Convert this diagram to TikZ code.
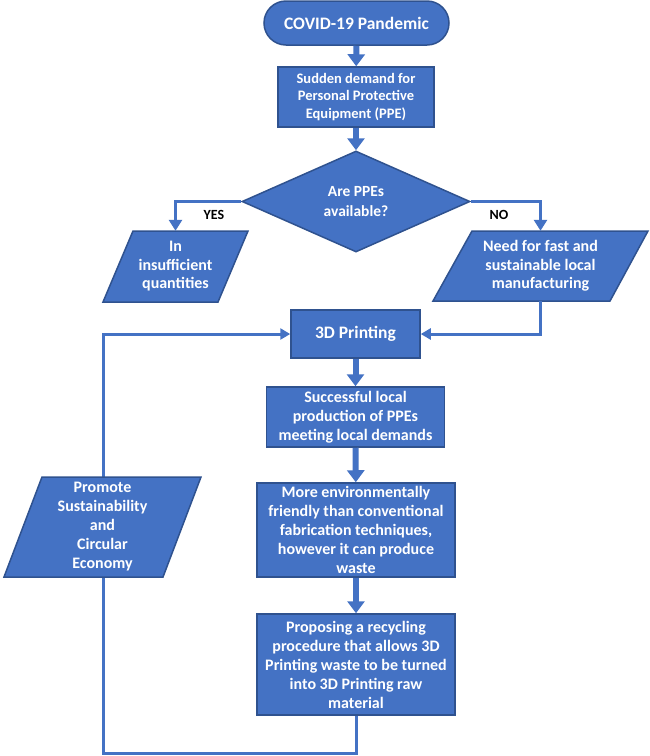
\documentclass[tikz,border=0pt]{standalone}
\usepackage{fontspec}
\setmainfont{Carlito}
\usetikzlibrary{shapes.geometric,arrows.meta,backgrounds}
\definecolor{fillb}{HTML}{4472C4}
\definecolor{edgeb}{HTML}{2F528F}
\definecolor{lineb}{HTML}{4472C4}
\begin{document}
\begin{tikzpicture}[x=1pt,y=-1pt,
  blk/.style={draw=edgeb,line width=1.5pt,fill=fillb,text=white,
    font=\bfseries\fontsize{16}{19}\selectfont,align=center,inner sep=0pt},
  ptext/.style={text=white,font=\bfseries\fontsize{16}{19}\selectfont,
    align=center,inner sep=0pt},
  parafill/.style={draw=edgeb,line width=1.5pt,fill=fillb,line join=miter},
  mainarr/.style={draw=lineb,line width=6pt,-{Triangle[width=17pt,length=12pt]}},
  thinarr/.style={draw=lineb,line width=3pt,-{Triangle[width=13pt,length=11pt]}},
  looparr/.style={draw=lineb,line width=3pt,-{Triangle[width=11pt,length=10pt]}},
  lbl/.style={text=black,font=\bfseries\fontsize{14}{16}\selectfont,inner sep=0pt}
]
\useasboundingbox (0,0) rectangle (649,756);

% process nodes
\node[blk,rounded corners=22pt,minimum width=185pt,minimum height=44pt,
  font=\bfseries\fontsize{17.5}{20}\selectfont] (start) at (356.5,23) {COVID-19 Pandemic};
\node[blk,minimum width=156pt,minimum height=60pt,
  font=\bfseries\fontsize{14.5}{17.5}\selectfont] (ppe) at (356,97)
  {Sudden demand for\\Personal Protective\\Equipment (PPE)};
\node[blk,diamond,aspect=2.26,minimum width=228pt,minimum height=101pt,
  font=\bfseries\fontsize{15.5}{20}\selectfont] (dia) at (356,201.5) {Are PPEs\\available?};
\node[blk,minimum width=129pt,minimum height=48pt,
  font=\bfseries\fontsize{17.5}{19}\selectfont] (print) at (355.5,334) {3D Printing};
\node[blk,minimum width=178pt,minimum height=60pt] (succ) at (355.5,417)
  {Successful local\\production of PPEs\\meeting local demands};
\node[blk,minimum width=198pt,minimum height=94pt] (more) at (356,530)
  {More environmentally\\friendly than conventional\\fabrication techniques,\\however it can produce\\waste};
\node[blk,minimum width=198pt,minimum height=101pt] (prop) at (356,664.5)
  {Proposing a recycling\\procedure that allows 3D\\Printing waste to be turned\\into 3D Printing raw\\material};

% parallelogram text nodes
\node[ptext,minimum width=115pt,minimum height=71pt,
  font=\bfseries\fontsize{16}{18.5}\selectfont] (insuf) at (175.5,266.5) {In\\insufficient\\quantities};
\node[ptext,minimum width=176pt,minimum height=70pt,
  font=\bfseries\fontsize{16}{18.5}\selectfont] (np) at (540.5,266) {Need for fast and\\sustainable local\\manufacturing};
\node[ptext,minimum width=159pt,minimum height=100pt] (promote) at (102.5,527)
  {Promote\\Sustainability\\and\\Circular\\Economy};

\coordinate (lb) at (103,753);
\coordinate (lt) at (print.west -| lb);

\begin{scope}[on background layer]
  \fill[white] (0,0) rectangle (649,756);
  % feedback loop (passes behind the parallelogram)
  \draw[looparr] (prop) |- (lb) -- (lt) -- (print.west);
  % parallelogram outlines
  \path[parafill] (133,231) -- (248,231) -- (218,302) -- (103,302) -- cycle;
  \path[parafill] (472,231) -- (648,231) -- (610,301) -- (433,301) -- cycle;
  \path[parafill] (42,477) -- (201,477) -- (163,577) -- (4,577) -- cycle;
\end{scope}

% connectors
\draw[mainarr] (start) -- (ppe);
\draw[mainarr] (ppe) -- (dia);
\draw[thinarr] (dia.west) -| (insuf);
\draw[thinarr] (dia.east) -| (np);
\draw[looparr] (np) |- (print);
\draw[mainarr] (print) -- (succ);
\draw[mainarr] (succ) -- (more);
\draw[mainarr] (more) -- (prop);

\node[lbl] (yes) at (214,215) {YES};
\node[lbl] (no) at (499,215) {NO};
\end{tikzpicture}
\end{document}
